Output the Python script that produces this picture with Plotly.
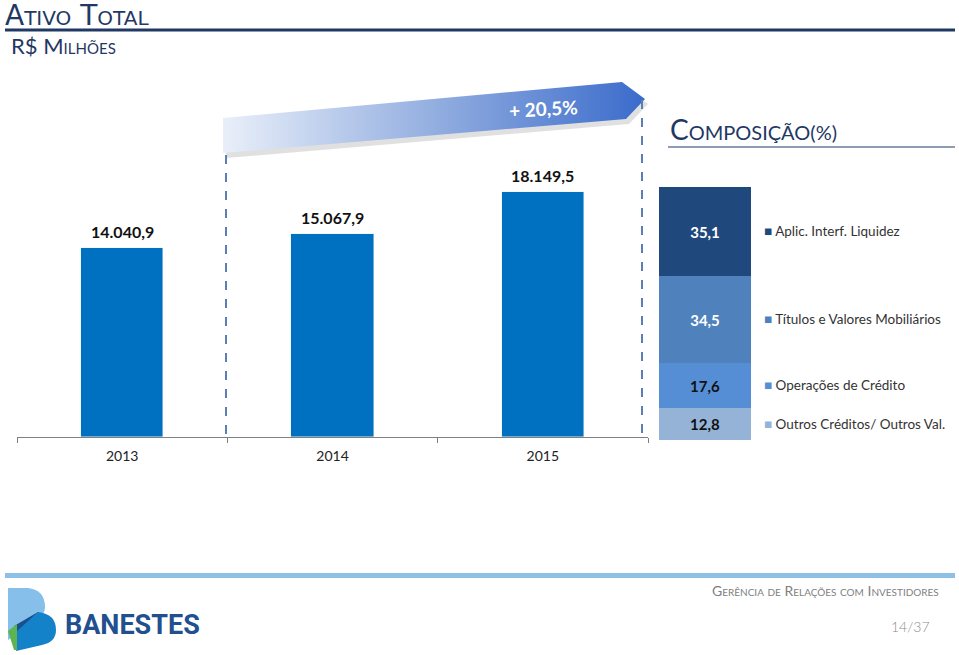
import plotly.graph_objects as go

W, H = 959, 655

# ---------------- data ----------------
years = ["2013", "2014", "2015"]
ativo_total = [14040.9, 15067.9, 18149.5]
growth_label = "+ 20,5%"

comp_labels = ["Aplic. Interf. Liquidez", "Títulos e Valores Mobiliários",
               "Operações de Crédito", "Outros Créditos/ Outros Val."]
comp_values = [35.1, 34.5, 17.6, 12.8]          # top -> bottom
comp_colors = ["#1f497d", "#4f81bd", "#558ed5", "#95b3d7"]
comp_text_colors = ["white", "white", "#111111", "#111111"]

title_text = "Ativo Total"
subtitle_text = "R$ Milhões"
comp_title = "Composição"
comp_unit = "(%)"
footer_text = "Gerência de Relações com Investidores"
page_text = "14/37"
brand_text = "BANESTES"


def px(x):
    return x / W


def py(y):
    return 1 - y / H


FONT = "Lato, 'Open Sans', sans-serif"
NAVY = "#1f3864"

fig = go.Figure()

# main bars
fig.add_trace(go.Bar(
    x=years, y=ativo_total, marker_color="#0070c0", width=0.39,
    xaxis="x", yaxis="y", showlegend=False, hoverinfo="skip",
))

# composition stacked bar (bottom -> top)
for lab, val, col, tcol in reversed(list(zip(comp_labels, comp_values, comp_colors, comp_text_colors))):
    fig.add_trace(go.Bar(
        x=["c"], y=[val], name=lab, marker_color=col, marker_line_width=0, width=1,
        texttemplate="%{y:.1f}", textposition="inside", insidetextanchor="middle",
        textangle=0, constraintext="none",
        textfont=dict(family=FONT, size=15, color=tcol, weight="bold"),
        xaxis="x2", yaxis="y2", showlegend=False, hoverinfo="skip",
    ))

# gradient arrow on a pixel overlay
ax = [223, 622, 645, 626, 223, 223]
ay = [118, 82, 99, 119, 153, 118]
fig.add_trace(go.Scatter(
    x=[v + 3 for v in ax], y=[v + 5 for v in ay], mode="lines", fill="toself",
    line=dict(width=0), fillcolor="rgba(0,0,0,0.12)",
    xaxis="x3", yaxis="y3", showlegend=False, hoverinfo="skip",
))
fig.add_trace(go.Scatter(
    x=ax, y=ay, mode="lines", fill="toself", line=dict(width=0),
    fillgradient=dict(type="horizontal",
                      colorscale=[[0, "#e9eff9"], [0.5, "#93aee0"], [1, "#3a6bcb"]]),
    xaxis="x3", yaxis="y3", showlegend=False, hoverinfo="skip",
))

shapes = []
# title line
shapes.append(dict(type="line", xref="paper", yref="paper", x0=px(5), x1=px(955),
                   y0=py(30), y1=py(30), line=dict(color=NAVY, width=3)))
# composition line
shapes.append(dict(type="line", xref="paper", yref="paper", x0=px(668), x1=px(955),
                   y0=py(147), y1=py(147), line=dict(color=NAVY, width=1)))
# footer bar
shapes.append(dict(type="rect", xref="paper", yref="paper", x0=px(5), x1=px(955),
                   y0=py(578), y1=py(573), line=dict(width=0), fillcolor="#8dc0e4"))
# dashed lines
shapes.append(dict(type="line", xref="paper", yref="paper", x0=px(226), x1=px(226),
                   y0=py(155), y1=py(440), line=dict(color="#5b7fb0", width=2, dash="dash")))
shapes.append(dict(type="line", xref="paper", yref="paper", x0=px(642), x1=px(642),
                   y0=py(100), y1=py(440), line=dict(color="#5b7fb0", width=2, dash="dash")))
# logo
shapes.append(dict(type="path", xref="x3", yref="y3",
                   path="M 8 588 L 28 588 Q 45 590 45 607 Q 45 614 39 618 L 8 640 Z",
                   fillcolor="#85bfea", line=dict(width=0)))
shapes.append(dict(type="path", xref="x3", yref="y3",
                   path="M 14 626 L 38 612 L 44 616 L 20 640 Z",
                   fillcolor="#1d4e8f", line=dict(width=0)))
shapes.append(dict(type="path", xref="x3", yref="y3",
                   path="M 16 632 L 38 612 Q 56 614 56 630 Q 56 642 42 645 L 16 651 Z",
                   fillcolor="#1382c8", line=dict(width=0)))
shapes.append(dict(type="path", xref="x3", yref="y3",
                   path="M 8 631 L 17 624 L 17 650 L 14 650 Z",
                   fillcolor="#5db450", line=dict(width=0)))

annotations = []
# value labels above the main bars (x given as category index)
for i, v in enumerate(ativo_total):
    annotations.append(dict(
        text=f"{v:,.1f}".replace(",", "X").replace(".", ",").replace("X", "."),
        x=i, y=v, xref="x", yref="y", xanchor="center", yanchor="bottom",
        yshift=5, showarrow=False,
        font=dict(family=FONT, size=16, color="#111111", weight="bold")))

annotations.append(dict(text=title_text, x=px(4), y=py(15.8), xref="paper", yref="paper",
                        xanchor="left", yanchor="middle", showarrow=False, borderpad=0,
                        font=dict(family="'DejaVu Sans', sans-serif", size=28, color=NAVY,
                                  variant="small-caps")))
annotations.append(dict(text=subtitle_text, x=px(9), y=py(46), xref="paper", yref="paper",
                        xanchor="left", yanchor="middle", showarrow=False,
                        font=dict(family=FONT, size=22, color=NAVY, variant="small-caps")))
annotations.append(dict(text=f"{comp_title}<span style='font-size:20px'>{comp_unit}</span>",
                        x=px(668), y=py(129), xref="paper", yref="paper",
                        xanchor="left", yanchor="middle", showarrow=False,
                        font=dict(family=FONT, size=28, color=NAVY, variant="small-caps")))
annotations.append(dict(text=growth_label, x=px(543), y=py(108), xref="paper", yref="paper",
                        xanchor="center", yanchor="middle", showarrow=False, textangle=-3,
                        font=dict(family=FONT, size=19, color="white", weight="bold")))
annotations.append(dict(text=footer_text, x=px(941), y=py(590), xref="paper", yref="paper",
                        xanchor="right", yanchor="middle", showarrow=False,
                        font=dict(family=FONT, size=14, color="#7f7f7f", variant="small-caps")))
annotations.append(dict(text=page_text, x=px(932), y=py(626), xref="paper", yref="paper",
                        xanchor="right", yanchor="middle", showarrow=False,
                        font=dict(family=FONT, size=14, color="#8c8c8c", weight=300)))
annotations.append(dict(text=brand_text, x=px(63), y=py(625), xref="paper", yref="paper",
                        xanchor="left", yanchor="middle", showarrow=False,
                        font=dict(family="Roboto, sans-serif",
                                  size=27, color="#22508f", weight="bold")))

# composition legend, positioned at segment mid-points on the y2 scale
cum = 100.0
for lab, val, col in zip(comp_labels, comp_values, comp_colors):
    mid = cum - val / 2
    cum -= val
    annotations.append(dict(
        text=f"<span style='color:{col}'>■</span> {lab}",
        x=px(762), y=mid, xref="paper", yref="y2", xanchor="left", yanchor="middle",
        showarrow=False, font=dict(family=FONT, size=13.5, color="#333333")))

fig.update_layout(
    width=W, height=H, margin=dict(l=0, r=0, t=0, b=0),
    paper_bgcolor="white", plot_bgcolor="rgba(0,0,0,0)",
    separators=",.", barmode="stack", bargap=0,
    shapes=shapes, annotations=annotations,
    xaxis=dict(domain=[px(17), px(648)], type="category", tickson="boundaries",
               ticks="outside", ticklen=5, tickcolor="#7f7f7f", showline=True,
               linecolor="#7f7f7f", linewidth=1, showgrid=False, ticklabelstandoff=6,
               tickfont=dict(family=FONT, size=14, color="#222222"), fixedrange=True),
    yaxis=dict(domain=[py(437), py(150)], range=[0, 21290], visible=False,
               showgrid=False, fixedrange=True),
    xaxis2=dict(domain=[px(659), px(751)], range=[-0.5, 0.5], visible=False,
                anchor="y2", type="category"),
    yaxis2=dict(domain=[py(440), py(187)], range=[0, 100], visible=False, anchor="x2"),
    xaxis3=dict(domain=[0, 1], range=[0, W], visible=False, anchor="y3"),
    yaxis3=dict(domain=[0, 1], range=[H, 0], visible=False, anchor="x3"),
)

fig.write_html("out.html", config={"displayModeBar": False},
               post_script="document.body.style.margin='0';document.body.style.overflow='hidden';")
